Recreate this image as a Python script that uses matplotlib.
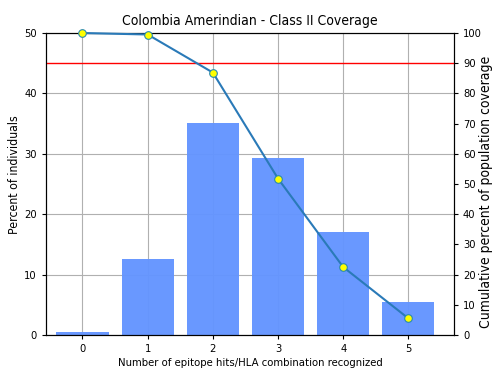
import matplotlib
matplotlib.use("Agg")
import matplotlib.pyplot as plt
import numpy as np

hits = [0, 1, 2, 3, 4, 5]
percent_individuals = [0.5, 12.6, 35.1, 29.3, 17.0, 5.5]
cumulative_coverage = [100.0, 99.5, 86.9, 51.8, 22.5, 5.5]
threshold = 90

plt.rcParams["font.family"] = "DejaVu Sans"
plt.rcParams["font.stretch"] = "condensed"

fig = plt.figure(figsize=(4.95, 3.77), dpi=100)
ax = fig.add_axes([46 / 495, 42 / 377, 408 / 495, 302 / 377])

ax.bar(hits, percent_individuals, width=0.8, color="#6495ff", alpha=0.97, zorder=2)
ax.set_ylim(0, 50)
ax.set_xlim(-0.56, 5.70)
ax.set_xticks(hits)
ax.set_yticks([0, 10, 20, 30, 40, 50])
ax.grid(True, color="#b0b0b0", linewidth=0.8, zorder=0)
ax.set_axisbelow(True)
ax.tick_params(labelsize=8, length=3)
ax.set_xlabel("Number of epitope hits/HLA combination recognized", fontsize=8.1, labelpad=3)
ax.set_ylabel("Percent of individuals", fontsize=8.8)
ax.yaxis.set_label_coords(-0.061, 0.53)
ax.set_title("Colombia Amerindian - Class II Coverage", fontsize=10, pad=6)

ax2 = ax.twinx()
ax2.plot(hits, cumulative_coverage, color="#2a7ab8", linewidth=1.5,
         marker="o", markersize=5.5, markerfacecolor="yellow",
         markeredgecolor="#2a8ab0", markeredgewidth=0.8, zorder=3, clip_on=False)
ax2.axhline(threshold, color="#ff0000", linewidth=1.0)
ax2.set_ylim(0, 100)
ax2.set_yticks(np.arange(0, 101, 10))
ax2.tick_params(labelsize=8, length=3)
ax2.set_ylabel("Cumulative percent of population coverage", fontsize=10)
ax2.yaxis.set_label_coords(1.061, 0.474)

fig.savefig("out.png", dpi=100)
